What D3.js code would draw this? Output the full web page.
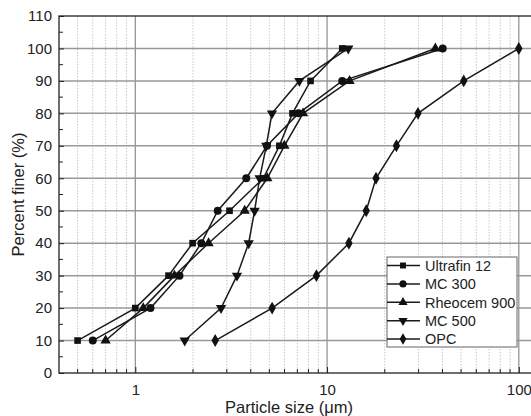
<!DOCTYPE html>
<html>
<head>
<meta charset="utf-8">
<script src="https://cdn.jsdelivr.net/npm/d3@7"></script>
<style>
  body { margin: 0; background: #fff; }
  svg { font-family: "Liberation Sans", Arial, sans-serif; }
</style>
</head>
<body>
<svg id="chart"></svg>
<script>
let width = 531;
let height = 416;
let margin = {"top": 16, "bottom": 43, "left": 59, "right": -3};

// percent finer levels (y) shared by all series
const percent = [10, 20, 30, 40, 50, 60, 70, 80, 90, 100];

// particle sizes (um)
const ultrafin = [0.50, 1.00, 1.49, 1.99, 3.10, 4.65, 5.64, 6.6, 8.2, 12.0];
const mc300 = [0.60, 1.20, 1.70, 2.21, 2.69, 3.79, 4.86, 7.1, 12.0, 40.1];
const rheocem = [0.70, 1.10, 1.60, 2.41, 3.72, 4.88, 5.99, 7.5, 13.1, 36.7];
const mc500 = [1.81, 2.80, 3.39, 3.90, 4.19, 4.45, 4.82, 5.16, 7.17, 12.9];
const opc = [2.61, 5.17, 8.8, 13.0, 16.0, 18.0, 23.0, 29.8, 51.6, 100];

const seriesNames = ["Ultrafin 12", "MC 300", "Rheocem 900", "MC 500", "OPC"];
const seriesValues = [ultrafin, mc300, rheocem, mc500, opc];

const yTicks = [0, 10, 20, 30, 40, 50, 60, 70, 80, 90, 100, 110];
const xLabels = [1, 10, 100];

const symbols = [
    {type: d3.symbolSquare, size: 44, rot: 0},
    {type: d3.symbolCircle, size: 50, rot: 0},
    {type: d3.symbolTriangle, size: 46, rot: 0},
    {type: d3.symbolTriangle, size: 46, rot: 180},
    {type: d3.symbolDiamond, size: 48, rot: 0}
];

let svg = d3.select("#chart")
    .attr("width", width)
    .attr("height", height);

let x = d3.scaleLog()
    .domain([0.4, 120])
    .range([margin.left, width - margin.right]);
let y = d3.scaleLinear()
    .domain([0, 110])
    .range([height - margin.bottom, margin.top]);

let plotLeft = margin.left, plotRight = width - margin.right;
let plotTop = margin.top, plotBottom = height - margin.bottom;

// minor vertical grid (dotted)
let minorX = [];
[0.1, 1, 10].forEach(function(dec) {
    for (let k = 2; k <= 9; k++) {
        let v = +(dec * k).toFixed(4);
        if (v > 0.4 && v < 120) minorX.push(v);
    }
});

svg.append("g").selectAll("line")
    .data(minorX)
    .enter().append("line")
    .attr("x1", d => x(d)).attr("x2", d => x(d))
    .attr("y1", plotTop).attr("y2", plotBottom)
    .style("stroke", "#c8c8c8")
    .style("stroke-width", 1)
    .style("stroke-dasharray", "1.5,1.5");

// major vertical grid
svg.append("g").selectAll("line")
    .data(xLabels)
    .enter().append("line")
    .attr("x1", d => x(d)).attr("x2", d => x(d))
    .attr("y1", plotTop).attr("y2", plotBottom)
    .style("stroke", "#8c8c8c")
    .style("stroke-width", 1.2);

// horizontal grid
svg.append("g").selectAll("line")
    .data(yTicks.filter(d => d > 0 && d < 110))
    .enter().append("line")
    .attr("x1", plotLeft).attr("x2", plotRight)
    .attr("y1", d => y(d)).attr("y2", d => y(d))
    .style("stroke", "#999999")
    .style("stroke-width", 1.5);

// frame
svg.append("rect")
    .attr("x", plotLeft).attr("y", plotTop)
    .attr("width", plotRight - plotLeft).attr("height", plotBottom - plotTop)
    .style("fill", "none")
    .style("stroke", "#222")
    .style("stroke-width", 1.3);

// y axis (ticks inside)
let yAxis = d3.axisLeft(y)
    .tickValues(yTicks)
    .tickSize(-5)
    .tickPadding(7)
    .tickFormat(d3.format("d"));
let gy = svg.append("g")
    .attr("transform", `translate(${plotLeft},0)`)
    .call(yAxis);
gy.select(".domain").remove();
gy.selectAll("text").style("font-size", "15px").style("fill", "#222");
gy.selectAll("line").style("stroke", "#222");

svg.append("g").selectAll("line")
    .data(d3.range(5, 110, 10))
    .enter().append("line")
    .attr("x1", plotLeft).attr("x2", plotLeft + 4)
    .attr("y1", d => y(d)).attr("y2", d => y(d))
    .style("stroke", "#222");

// x axis (ticks inside)
let xAxis = d3.axisBottom(x)
    .tickValues(xLabels)
    .tickSize(-6)
    .tickPadding(11)
    .tickFormat(d3.format("d"));
let gx = svg.append("g")
    .attr("transform", `translate(0,${plotBottom})`)
    .call(xAxis);
gx.select(".domain").remove();
gx.selectAll("text").style("font-size", "15px").style("fill", "#222");
gx.selectAll("line").style("stroke", "#222");

svg.append("g").selectAll("line")
    .data(minorX)
    .enter().append("line")
    .attr("x1", d => x(d)).attr("x2", d => x(d))
    .attr("y1", plotBottom).attr("y2", plotBottom - 4)
    .style("stroke", "#222");

// axis titles
svg.append("text")
    .attr("x", 289).attr("y", 413)
    .attr("text-anchor", "middle")
    .style("font-size", "16.5px")
    .style("fill", "#222")
    .text("Particle size (\u03bcm)");

svg.append("text")
    .attr("transform", `translate(24,${(plotTop + plotBottom) / 2}) rotate(-90)`)
    .attr("text-anchor", "middle")
    .style("font-size", "16.5px")
    .style("fill", "#222")
    .text("Percent finer (%)");

// series
let line = d3.line()
    .x(d => x(d[0]))
    .y(d => y(d[1]));

seriesValues.forEach(function(vals, i) {
    let pts = vals.map((v, j) => [v, percent[j]]);
    let g = svg.append("g");
    g.append("path")
        .datum(pts)
        .attr("d", line)
        .style("fill", "none")
        .style("stroke", "#1a1a1a")
        .style("stroke-width", 1.5);
    g.selectAll("path.pt")
        .data(pts)
        .enter().append("path")
        .attr("class", "pt")
        .attr("d", d3.symbol().type(symbols[i].type).size(symbols[i].size))
        .attr("transform", d => `translate(${x(d[0])},${y(d[1])}) rotate(${symbols[i].rot})`)
        .style("fill", "#111");
});

// legend
let legend = svg.append("g").attr("transform", "translate(387,257)");
legend.append("rect")
    .attr("width", 130).attr("height", 90)
    .style("fill", "#fff")
    .style("stroke", "#666")
    .style("stroke-width", 1);

let items = legend.selectAll("g.item")
    .data(seriesNames)
    .enter().append("g")
    .attr("class", "item")
    .attr("transform", (d, i) => `translate(0,${8.5 + i * 18.4})`);
items.append("line")
    .attr("x1", 0).attr("x2", 33)
    .style("stroke", "#1a1a1a")
    .style("stroke-width", 1.5);
items.append("path")
    .attr("d", (d, i) => d3.symbol().type(symbols[i].type).size(symbols[i].size * 0.8)())
    .attr("transform", (d, i) => `translate(16,0) rotate(${symbols[i].rot})`)
    .style("fill", "#111");
items.append("text")
    .attr("x", 38).attr("dy", "0.36em")
    .style("font-size", "14.5px")
    .style("fill", "#222")
    .text(d => d);
</script>
</body>
</html>
